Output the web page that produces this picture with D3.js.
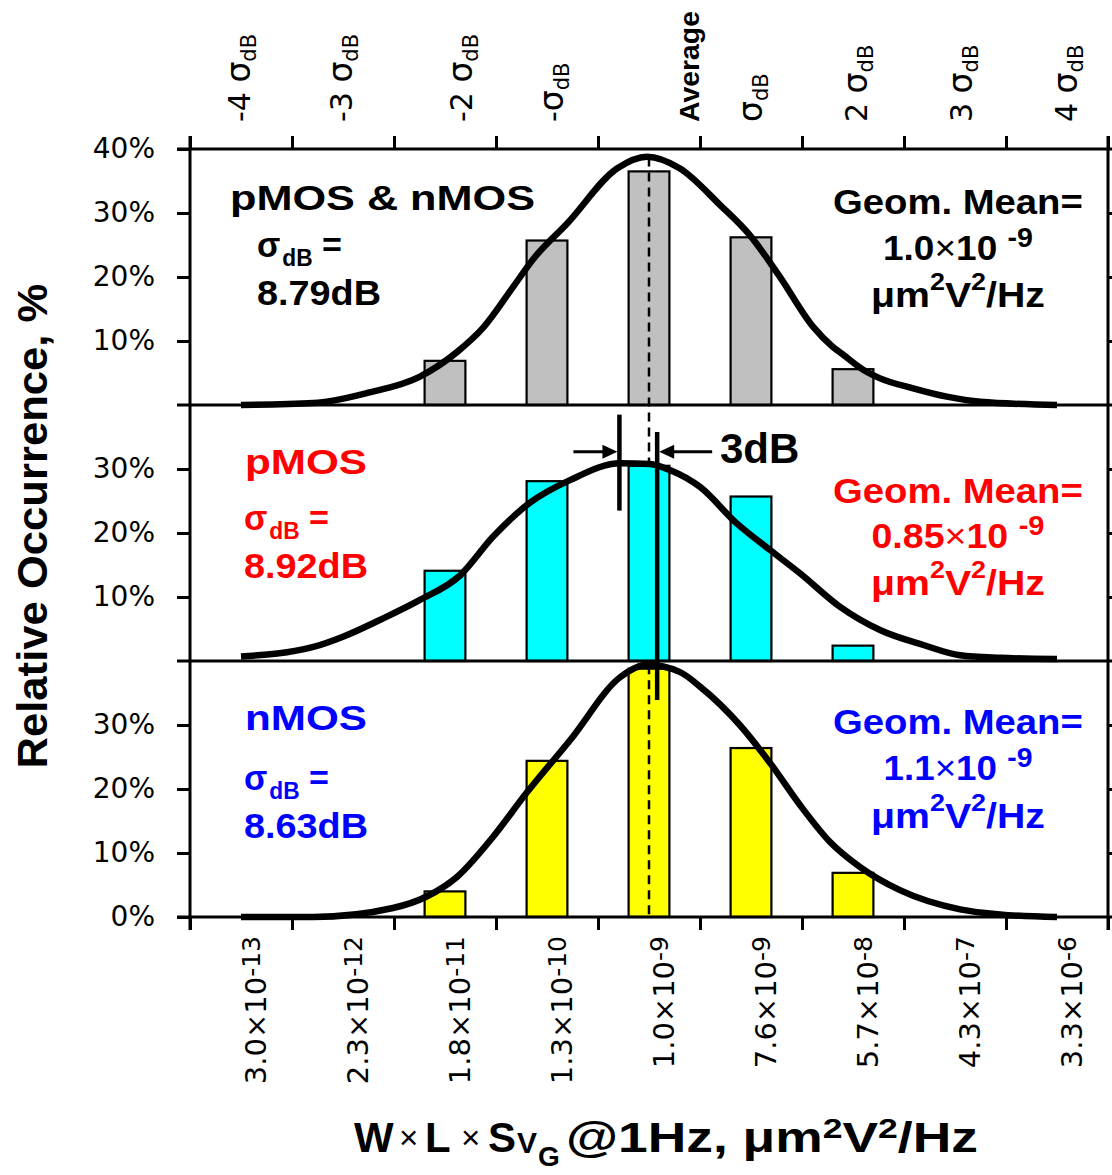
<!DOCTYPE html>
<html>
<head>
<meta charset="utf-8">
<script src="https://cdn.jsdelivr.net/npm/d3@7"></script>
<style>
  html, body { margin: 0; padding: 0; background: #fff; }
  svg { display: block; }
</style>
</head>
<body>
<svg id="chart" width="1112" height="1175"></svg>
<script>
// ---------------- data ----------------
// bottom axis: bin centres of W x L x S_VG (mantissa x 10^exponent)
const binMantissa = ["3.0", "2.3", "1.8", "1.3", "1.0", "7.6", "5.7", "4.3", "3.3"];
const binExponent = ["-13", "-12", "-11", "-10", "-9", "-9", "-8", "-7", "-6"];
// top axis: distance from the average in units of sigma_dB
const sigmaSteps = [-4, -3, -2, -1, 0, 1, 2, 3, 4];

// relative occurrence per bin, %
const combinedPct = [0, 0, 6.9, 25.7, 36.5, 26.2, 5.6, 0, 0];
const pmosPct     = [0, 0, 14.1, 28.1, 30.5, 25.7, 2.4, 0, 0];
const nmosPct     = [0, 0, 4.0, 24.4, 38.8, 26.4, 6.9, 0, 0];

// fitted log-normal curves: [position in bin units, %]
const combinedCurve = [[0.5, 0], [1.21, 0.3], [1.74, 1.9], [2.25, 4.4], [2.62, 8.3], [2.87, 12.0],
  [3.17, 18.5], [3.36, 22.7], [3.70, 28.4], [4.19, 37.0], [4.48, 38.8], [4.80, 37.0], [5.20, 31.2],
  [5.49, 26.5], [5.78, 20.1], [6.11, 12.2], [6.30, 9.1], [6.40, 7.9], [6.60, 5.5], [6.76, 4.2],
  [7.09, 2.6], [7.42, 1.3], [7.75, 0.5], [8.5, 0]];
const pmosCurve = [[0.5, 0.7], [1.21, 2.2], [1.50, 3.8], [1.86, 6.4], [2.25, 9.5], [2.65, 13.4],
  [2.97, 19.4], [3.33, 24.7], [3.73, 28.3], [4.22, 30.9], [4.51, 30.8], [4.71, 29.8], [5.0, 27.2],
  [5.36, 21.5], [5.69, 17.3], [5.98, 13.7], [6.37, 8.5], [6.77, 4.8], [7.19, 2.5], [7.55, 0.9],
  [7.94, 0.5], [8.5, 0.3]];
const nmosCurve = [[0.5, 0], [1.21, 0], [1.99, 1.4], [2.32, 3.2], [2.62, 6.3], [2.97, 12.5],
  [3.30, 19.4], [3.73, 27.7], [4.22, 37.5], [4.48, 39.4], [4.80, 38.3], [5.0, 36.0], [5.39, 30.0],
  [5.69, 24.0], [5.98, 17.5], [6.27, 11.8], [6.57, 7.8], [6.96, 4.2], [7.55, 1.2], [7.94, 0.4],
  [8.5, 0]];

// panel annotations
const panelNames = ["pMOS & nMOS", "pMOS", "nMOS"];
const panelSigmaDb = ["8.79", "8.92", "8.63"];
const panelGeoMean = ["1.0", "0.85", "1.1"];
const geoMeanExponent = "-9";

// geometric means in bin units (average of both types, pMOS, nMOS)
const averagePos = 4.5;
const pmosMeanPos = 4.21;
const nmosMeanPos = 4.58;

// ---------------- layout ----------------
const FONT = "'Liberation Sans', Arial, Helvetica, sans-serif";
const TICK_FONT = "'DejaVu Sans', Verdana, sans-serif";
const plotLeft = 190, plotRight = 1108, plotTop = 149, panelH = 256;
const plotBottom = plotTop + 3 * panelH;

const svg = d3.select("#chart");

const xLin = d3.scaleLinear().domain([0, 9]).range([plotLeft, plotRight]);
const xBand = d3.scaleBand().domain(d3.range(9)).range([plotLeft, plotRight])
  .paddingInner(0.6).paddingOuter(0.3);

const colors = { red: "#ff0000", blue: "#0000ff" };
const panels = [
  { values: combinedPct, curve: combinedCurve, fill: "#c0c0c0", ticks: [10, 20, 30, 40], ink: "#000" },
  { values: pmosPct, curve: pmosCurve, fill: "#00ffff", ticks: [10, 20, 30], ink: colors.red },
  { values: nmosPct, curve: nmosCurve, fill: "#ffff00", ticks: [0, 10, 20, 30], ink: colors.blue }
];
panels.forEach((p, i) => {
  p.y = d3.scaleLinear().domain([0, 40])
    .range([plotTop + panelH * (i + 1), plotTop + panelH * i]);
});

// text helper: tspans for sub/superscripts, optional stretch to a given width
function addText(parent, o) {
  const g = parent.append("g")
    .attr("transform", `translate(${o.x},${o.y})${o.rotate ? ` rotate(${o.rotate})` : ""}`);
  const inner = g.append("g");
  const t = inner.append("text")
    .attr("font-family", o.family || FONT)
    .attr("font-size", o.size)
    .attr("font-weight", o.weight || "bold")
    .attr("fill", o.fill || "#000");
  let level = 0;
  (o.parts || [{ t: o.text }]).forEach(p => {
    const s = t.append("tspan").text(p.t);
    const dy = (p.dy || 0) - level;
    level = p.dy || 0;
    if (dy) s.attr("dy", dy);
    if (p.dx) s.attr("dx", p.dx);
    if (p.size) s.attr("font-size", p.size);
    if (p.weight) s.attr("font-weight", p.weight);
  });
  const w = t.node().getBBox().width;
  const sx = o.width ? o.width / w : (o.sx || 1);
  const shift = o.anchor === "middle" ? -w * sx / 2 : o.anchor === "end" ? -w * sx : 0;
  inner.attr("transform", `translate(${shift},0) scale(${sx},1)`);
  return g;
}

// ---------------- bars and curves ----------------
const marks = svg.append("g");
panels.forEach(p => {
  const g = marks.append("g");
  g.selectAll("rect")
    .data(p.values.map((v, i) => ({ i, v })).filter(d => d.v > 0))
    .join("rect")
    .attr("x", d => xBand(d.i))
    .attr("width", xBand.bandwidth())
    .attr("y", d => p.y(d.v))
    .attr("height", d => p.y(0) - p.y(d.v))
    .attr("fill", p.fill)
    .attr("stroke", "#000")
    .attr("stroke-width", 2.2);
});

// interpolate a fitted curve at a given position
function curveAt(curve, pos) {
  for (let k = 1; k < curve.length; k++) {
    if (pos <= curve[k][0]) {
      const [x0, y0] = curve[k - 1], [x1, y1] = curve[k];
      return y0 + (y1 - y0) * (pos - x0) / (x1 - x0);
    }
  }
  return curve[curve.length - 1][1];
}

// dashed line at the common average
const avgX = xLin(averagePos);
const guides = svg.append("g")
  .attr("stroke", "#000").attr("stroke-width", 2.5).attr("stroke-dasharray", "9,6");
guides.append("line")
  .attr("x1", avgX).attr("x2", avgX)
  .attr("y1", panels[0].y(curveAt(combinedCurve, averagePos)))
  .attr("y2", panels[1].y(curveAt(pmosCurve, averagePos)));
guides.append("line")
  .attr("x1", avgX).attr("x2", avgX)
  .attr("y1", panels[2].y(curveAt(nmosCurve, averagePos)))
  .attr("y2", panels[2].y(0));

panels.forEach(p => {
  marks.append("path")
    .datum(p.curve)
    .attr("fill", "none")
    .attr("stroke", "#000")
    .attr("stroke-width", 6.5)
    .attr("stroke-linejoin", "round")
    .attr("d", d3.line().x(d => xLin(d[0])).y(d => p.y(d[1])).curve(d3.curveMonotoneX));
});

// ---------------- axes and frame ----------------
const axes = svg.append("g");
function styleAxis(g) {
  g.select(".domain").remove();
  g.selectAll(".tick line").attr("stroke", "#000").attr("stroke-width", 3);
  g.selectAll(".tick text")
    .attr("font-family", TICK_FONT).attr("font-size", 28).attr("fill", "#000");
}
panels.forEach(p => {
  axes.append("g").attr("transform", `translate(${plotLeft},0)`)
    .call(d3.axisLeft(p.y).tickValues(p.ticks).tickSize(13).tickPadding(22).tickFormat(d => d + "%"))
    .call(styleAxis);
  axes.append("g").attr("transform", `translate(${plotRight},0)`)
    .call(d3.axisRight(p.y).tickValues([10, 20, 30]).tickSize(13).tickFormat(""))
    .call(styleAxis);
});
axes.append("g").attr("transform", `translate(0,${plotTop})`)
  .call(d3.axisTop(xLin).tickValues(d3.range(10)).tickSize(13).tickFormat(""))
  .call(styleAxis);
axes.append("g").attr("transform", `translate(0,${plotBottom})`)
  .call(d3.axisBottom(xLin).tickValues(d3.range(10)).tickSize(13).tickFormat(""))
  .call(styleAxis);

// panel boundaries (extend out as the 0 %/40 % ticks)
[0, 1, 2, 3].forEach(k => {
  axes.append("line")
    .attr("x1", plotLeft - 13).attr("x2", plotRight + 13)
    .attr("y1", plotTop + k * panelH).attr("y2", plotTop + k * panelH)
    .attr("stroke", "#000").attr("stroke-width", 3);
});
[plotLeft, plotRight].forEach(x => {
  axes.append("line")
    .attr("x1", x).attr("x2", x)
    .attr("y1", plotTop - 13).attr("y2", plotBottom + 13)
    .attr("stroke", "#000").attr("stroke-width", 3);
});

// ---------------- mean markers ----------------
const mk = svg.append("g").attr("stroke", "#000");
const pX = xLin(pmosMeanPos), nX = xLin(nmosMeanPos);
mk.append("line").attr("x1", pX).attr("x2", pX)
  .attr("y1", panels[1].y(38.5)).attr("y2", panels[1].y(23.5)).attr("stroke-width", 4.5);
mk.append("line").attr("x1", nX).attr("x2", nX)
  .attr("y1", panels[1].y(35.8)).attr("y2", panels[2].y(33.9)).attr("stroke-width", 4.5);
const arrowY = panels[1].y(32.7);
mk.append("line").attr("x1", pX - 46).attr("x2", pX - 12).attr("y1", arrowY).attr("y2", arrowY).attr("stroke-width", 3);
mk.append("line").attr("x1", nX + 55).attr("x2", nX + 12).attr("y1", arrowY).attr("y2", arrowY).attr("stroke-width", 3);
svg.append("path").attr("fill", "#000")
  .attr("d", `M${pX - 2},${arrowY} L${pX - 17},${arrowY - 7} L${pX - 17},${arrowY + 7} Z`);
svg.append("path").attr("fill", "#000")
  .attr("d", `M${nX + 2},${arrowY} L${nX + 17},${arrowY - 7} L${nX + 17},${arrowY + 7} Z`);

const txt = svg.append("g");
addText(txt, { x: 720, y: 463, size: 42, text: "3dB" });

// ---------------- tick labels ----------------
binMantissa.forEach((m, i) => {
  addText(txt, {
    x: xBand(i) + xBand.bandwidth() / 2 + 25, y: 936, rotate: -90, anchor: "end",
    family: TICK_FONT, weight: "normal", size: 29,
    parts: [{ t: m + "×10" }, { t: binExponent[i], size: 25, dy: -6 }]
  });
});

// sigma labels above the plot
const sigmaNudge = [9, 9, 27, 16, 50, 11, 14, 17, 20];
sigmaSteps.forEach((k, i) => {
  const x = xBand(i) + xBand.bandwidth() / 2 + sigmaNudge[i];
  if (k === 0) {
    addText(txt, { x, y: 122, rotate: -90, size: 27, text: "Average", width: 111 });
  } else {
    const prefix = k === 1 ? "" : k === -1 ? "-" : k + " ";
    addText(txt, {
      x, y: 122, rotate: -90, family: TICK_FONT, weight: "normal", size: 30,
      parts: [{ t: prefix }, { t: "σ", size: 33 }, { t: "dB", size: 21, dy: 6 }]
    });
  }
});

// axis titles
addText(txt, { x: 47, y: 526, rotate: -90, anchor: "middle", size: 43,
  text: "Relative Occurrence, %", width: 485 });

addText(txt, { x: 354, y: 1152, size: 42, text: "W" });
addText(txt, { x: 399, y: 1149, size: 33, weight: "normal", text: "×" });
addText(txt, { x: 425, y: 1152, size: 42, text: "L" });
addText(txt, { x: 461, y: 1149, size: 33, weight: "normal", text: "×" });
addText(txt, { x: 488, y: 1152, size: 42, text: "S" });
addText(txt, { x: 517, y: 1153, size: 30, text: "V" });
addText(txt, { x: 538, y: 1166, size: 28, text: "G" });
addText(txt, { x: 566, y: 1152, size: 42, width: 412,
  parts: [{ t: "@1Hz, μm" }, { t: "2", size: 28, dy: -14 }, { t: "V" }, { t: "2", size: 28, dy: -14 }, { t: "/Hz" }] });

// ---------------- panel annotations ----------------
const leftBlock = [
  { x: 230, sx: 257, name: 61, sig: 108, val: 156, wName: 305 },
  { x: 245, sx: 244, name: 69, sig: 125, val: 173, wName: 122 },
  { x: 245, sx: 244, name: 69, sig: 129, val: 177, wName: 122 }
];
const rightBlock = [
  { geo: 65, man: 111, unit: 158, wMan: 150 },
  { geo: 98, man: 143, unit: 190, wMan: 173 },
  { geo: 73, man: 119, unit: 167, wMan: 149 }
];
panels.forEach((p, i) => {
  const top = plotTop + i * panelH;
  const L = leftBlock[i], R = rightBlock[i];
  addText(txt, { x: L.x, y: top + L.name, size: 35, fill: p.ink, text: panelNames[i], width: L.wName });
  addText(txt, { x: L.sx, y: top + L.sig, size: 36, fill: p.ink, width: 85,
    parts: [{ t: "σ" }, { t: "dB", size: 24, dy: 9, dx: 2 }, { t: " =" }] });
  addText(txt, { x: L.sx, y: top + L.val, size: 35, fill: p.ink, text: panelSigmaDb[i] + "dB", width: 124 });

  addText(txt, { x: 958, y: top + R.geo, anchor: "middle", size: 35, fill: p.ink, text: "Geom. Mean=", width: 250 });
  addText(txt, { x: 958, y: top + R.man, anchor: "middle", size: 35, fill: p.ink, width: R.wMan,
    parts: [{ t: panelGeoMean[i] }, { t: "×", weight: "normal" }, { t: "10 " }, { t: geoMeanExponent, size: 27, dy: -13 }] });
  addText(txt, { x: 958, y: top + R.unit, anchor: "middle", size: 35, fill: p.ink, width: 174,
    parts: [{ t: "μm" }, { t: "2", size: 24, dy: -17 }, { t: "V" }, { t: "2", size: 24, dy: -17 }, { t: "/Hz" }] });
});
</script>
</body>
</html>
